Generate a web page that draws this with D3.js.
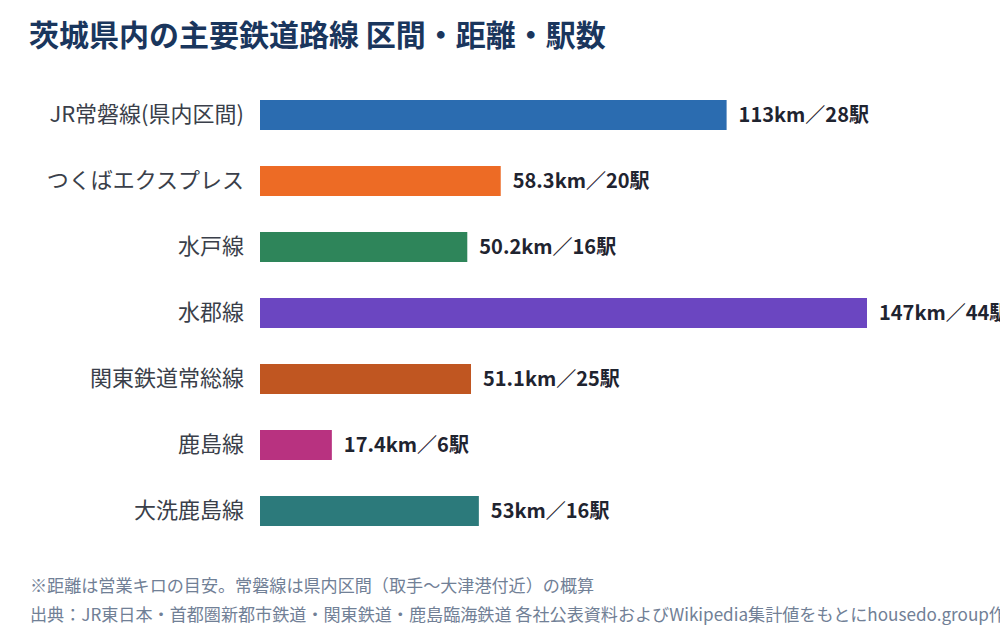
<!DOCTYPE html>
<html><head><meta charset="utf-8">
<script src="https://cdn.jsdelivr.net/npm/d3@7"></script>
<style>
html,body{margin:0;padding:0;background:#fff;}
svg{display:block;font-family:"Noto Sans CJK JP","Noto Sans",sans-serif;}
</style></head>
<body><svg id="c" width="1000" height="640"></svg>
<script>
const lines = ["JR常磐線(県内区間)","つくばエクスプレス","水戸線","水郡線","関東鉄道常総線","鹿島線","大洗鹿島線"];
const distances = [113, 58.3, 50.2, 147, 51.1, 17.4, 53];
const distanceLabels = ["113","58.3","50.2","147","51.1","17.4","53"];
const stations = [28, 20, 16, 44, 25, 6, 16];
const colors = ["#2b6cb0","#ed6b25","#2e855a","#6b46c1","#c05621","#b83280","#2c7a7b"];
const title = "茨城県内の主要鉄道路線 区間・距離・駅数";
const notes = ["※距離は営業キロの目安。常磐線は県内区間（取手〜大津港付近）の概算",
  "出典：JR東日本・首都圏新都市鉄道・関東鉄道・鹿島臨海鉄道 各社公表資料およびWikipedia集計値をもとにhousedo.group作成"];

const svg = d3.select("#c");
const p = 36/66;
const y = d3.scaleBand().domain(lines).range([82, 544]).paddingInner(p).paddingOuter(p/2);
const x = d3.scaleLinear().domain([0, 147]).range([260, 867]);

svg.append("text").attr("x", 29).attr("y", 46).attr("font-size", 30).attr("font-weight", 700)
  .attr("fill", "#1a365d").text(title);

const yAxis = d3.axisLeft(y).tickSize(0).tickPadding(16);
const ag = svg.append("g").attr("transform", `translate(${x(0)},0)`).call(yAxis);
ag.select(".domain").remove();
ag.selectAll("text").attr("font-size", 22).attr("fill", "#3a3f4a")
  .attr("font-family", '"Noto Sans CJK JP","Noto Sans",sans-serif');

const data = lines.map((l,i)=>({l, d:distances[i], dl:distanceLabels[i], s:stations[i], c:colors[i]}));
svg.append("g").selectAll("rect").data(data).join("rect")
  .attr("x", x(0)).attr("y", d=>y(d.l)).attr("width", d=>x(d.d)-x(0)).attr("height", y.bandwidth())
  .attr("fill", d=>d.c);
svg.append("g").selectAll("text").data(data).join("text")
  .attr("x", d=>x(d.d)+12).attr("y", d=>y(d.l)+y.bandwidth()/2).attr("dy","0.35em")
  .attr("font-size", 20).attr("font-weight", 700).attr("fill", "#1f2430")
  .text(d=>`${d.dl}km／${d.s}駅`);

svg.append("g").selectAll("text").data(notes).join("text")
  .attr("x", 30).attr("y", (d,i)=>591.5+i*29).attr("font-size", 17.1).attr("fill", "#718096")
  .text(d=>d);
</script></body></html>
